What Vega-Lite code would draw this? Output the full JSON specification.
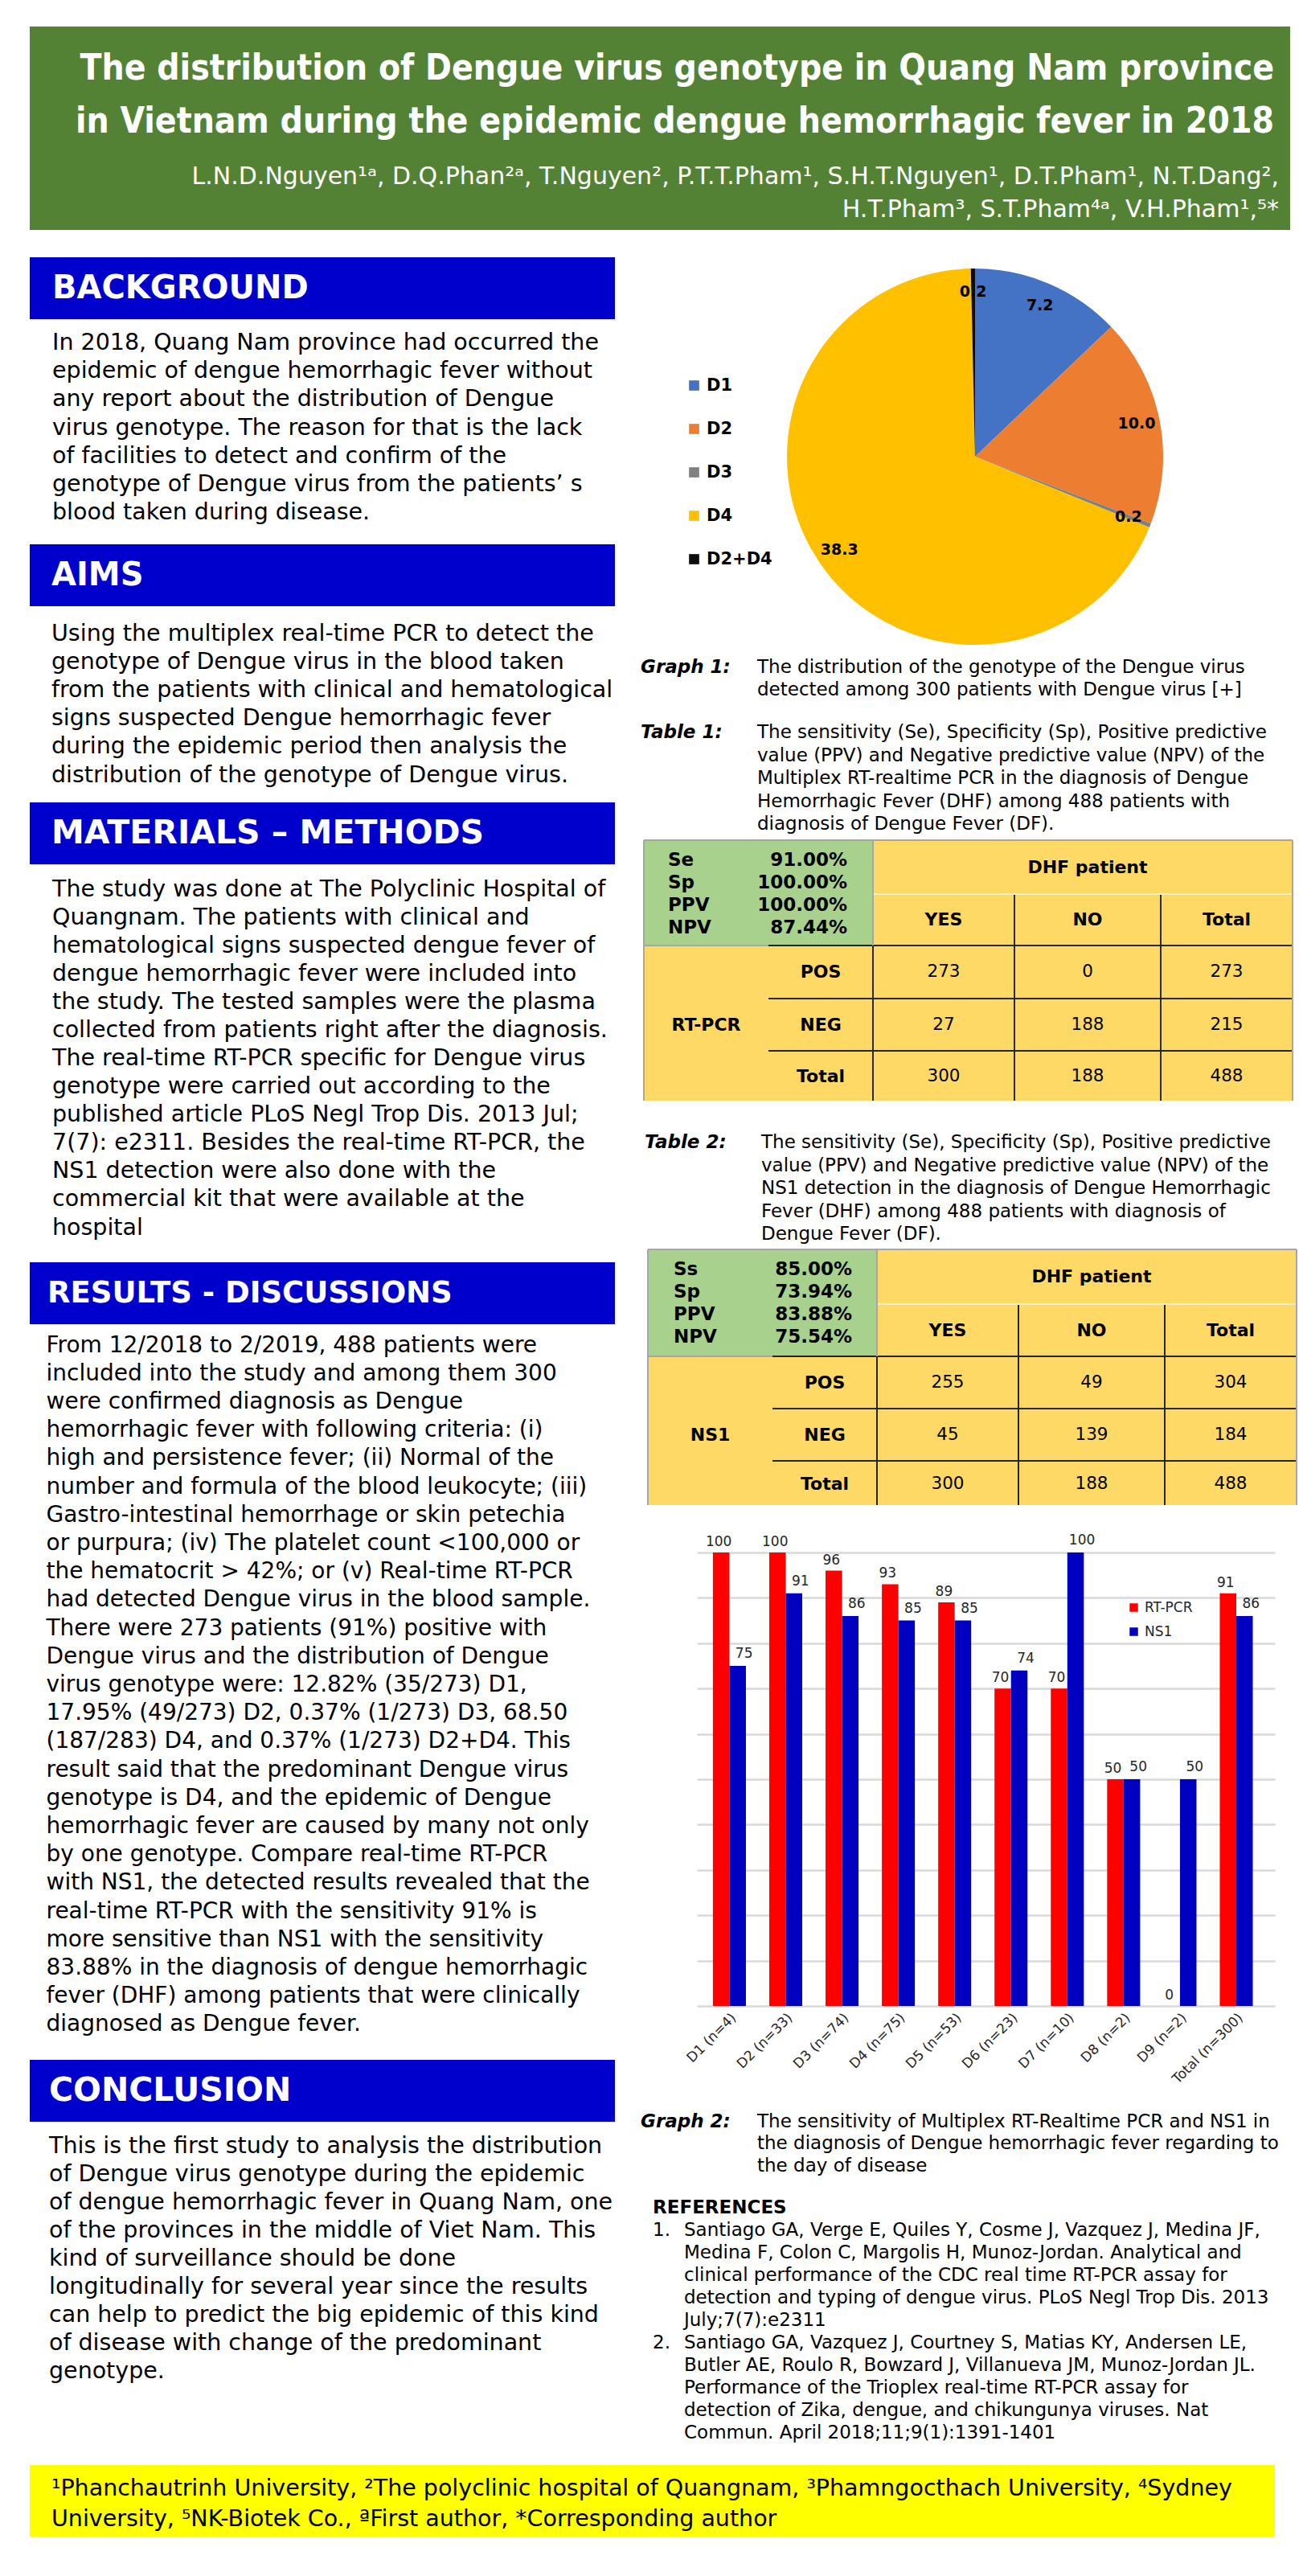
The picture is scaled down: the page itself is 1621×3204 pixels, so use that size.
{
"$schema": "https://vega.github.io/schema/vega-lite/v6.json",
"background": "white",
"padding": {"left": 37, "top": 33, "right": 9, "bottom": 48},
"config": {"view": {"stroke": null}, "font": "DejaVu Sans", "text": {"font": "DejaVu Sans", "color": "black"}, "concat": {"spacing": 0}},
"spacing": 0,
"resolve": {"scale": {"color": "independent"}, "legend": {"color": "independent"}},
"vconcat": [
{
 "width": 1568, "height": 253,
 "view": {"fill": "#548235", "stroke": null},
 "data": {"values": [
  {"line": 1, "kind": "title", "t": "The distribution of Dengue virus genotype in Quang Nam province"},
  {"line": 2, "kind": "title", "t": "in Vietnam during the epidemic dengue hemorrhagic fever in 2018"},
  {"line": 3, "kind": "author", "t": "L.N.D.Nguyen¹ᵃ, D.Q.Phan²ᵃ, T.Nguyen², P.T.T.Pham¹, S.H.T.Nguyen¹, D.T.Pham¹, N.T.Dang²,"},
  {"line": 4, "kind": "author", "t": "H.T.Pham³, S.T.Pham⁴ᵃ, V.H.Pham¹,⁵*"}
 ]},
 "encoding": {
  "y": {"field": "line", "type": "quantitative", "axis": null, "scale": {"domain": [1, 2, 3, 4], "range": [66, 132, 196, 237]}},
  "x": {"value": "width"},
  "text": {"field": "t"}
 },
 "layer": [
  {"transform": [{"filter": "datum.kind == 'title'"}], "mark": {"type": "text", "align": "right", "baseline": "alphabetic", "font": "DejaVu Sans Condensed", "fontWeight": "bold", "fontSize": 44, "color": "white", "dx": -20}},
  {"transform": [{"filter": "datum.kind == 'author'"}], "mark": {"type": "text", "align": "right", "baseline": "alphabetic", "fontSize": 30, "color": "white", "dx": -14}}
 ]
},
{"width": 1568, "height": 34, "data": {"values": []}, "mark": "point"},
{
 "spacing": 32,
 "resolve": {"scale": {"color": "independent"}, "legend": {"color": "independent"}},
 "hconcat": [
  {
   "spacing": 0,
   "vconcat": [
    {"width": 728, "height": 77, "view": {"fill": "#0000CC", "stroke": null}, "data": {"values": [{"t": "BACKGROUND"}]}, "mark": {"type": "text", "align": "left", "baseline": "middle", "fontSize": 40, "fontWeight": "bold", "color": "white", "dx": 28}, "encoding": {"x": {"value": 0}, "text": {"field": "t"}}},
    {"width": 728, "height": 10.35, "data": {"values": []}, "mark": "point"},
    {"width": 728, "height": 247.1,
     "data": {"values": [
      {"i": 0, "t": "In 2018, Quang Nam province had occurred the"},
      {"i": 1, "t": "epidemic of dengue hemorrhagic fever without"},
      {"i": 2, "t": "any report about the distribution of Dengue"},
      {"i": 3, "t": "virus genotype. The reason for that is the lack"},
      {"i": 4, "t": "of facilities to detect and confirm of the"},
      {"i": 5, "t": "genotype of Dengue virus from the patients’ s"},
      {"i": 6, "t": "blood taken during disease."}
     ]},
     "mark": {"type": "text", "align": "left", "baseline": "middle", "fontSize": 28.5, "dx": 28},
     "encoding": {"x": {"value": 0}, "y": {"field": "i", "type": "ordinal", "axis": null, "scale": {"type": "point", "padding": 0.5}}, "text": {"field": "t"}}},
    {"width": 728, "height": 20.55, "data": {"values": []}, "mark": "point"},
    {"width": 728, "height": 77, "view": {"fill": "#0000CC", "stroke": null}, "data": {"values": [{"t": "AIMS"}]}, "mark": {"type": "text", "align": "left", "baseline": "middle", "fontSize": 40, "fontWeight": "bold", "color": "white", "dx": 27}, "encoding": {"x": {"value": 0}, "text": {"field": "t"}}},
    {"width": 728, "height": 15.4, "data": {"values": []}, "mark": "point"},
    {"width": 728, "height": 211.2,
     "data": {"values": [
      {"i": 0, "t": "Using the multiplex real-time PCR to detect the"},
      {"i": 1, "t": "genotype of Dengue virus in the blood taken"},
      {"i": 2, "t": "from the patients with clinical and hematological"},
      {"i": 3, "t": "signs suspected Dengue hemorrhagic fever"},
      {"i": 4, "t": "during the epidemic period then analysis the"},
      {"i": 5, "t": "distribution of the genotype of Dengue virus."}
     ]},
     "mark": {"type": "text", "align": "left", "baseline": "middle", "fontSize": 28.5, "dx": 27},
     "encoding": {"x": {"value": 0}, "y": {"field": "i", "type": "ordinal", "axis": null, "scale": {"type": "point", "padding": 0.5}}, "text": {"field": "t"}}},
    {"width": 728, "height": 15.4, "data": {"values": []}, "mark": "point"},
    {"width": 728, "height": 77, "view": {"fill": "#0000CC", "stroke": null}, "data": {"values": [{"t": "MATERIALS – METHODS"}]}, "mark": {"type": "text", "align": "left", "baseline": "middle", "fontSize": 41, "fontWeight": "bold", "color": "white", "dx": 27}, "encoding": {"x": {"value": 0}, "text": {"field": "t"}}},
    {"width": 728, "height": 12.46, "data": {"values": []}, "mark": "point"},
    {"width": 728, "height": 456.04,
     "data": {"values": [
      {"i": 0, "t": "The study was done at The Polyclinic Hospital of"},
      {"i": 1, "t": "Quangnam. The patients with clinical and"},
      {"i": 2, "t": "hematological signs suspected dengue fever of"},
      {"i": 3, "t": "dengue hemorrhagic fever were included into"},
      {"i": 4, "t": "the study. The tested samples were the plasma"},
      {"i": 5, "t": "collected from patients right after the diagnosis."},
      {"i": 6, "t": "The real-time RT-PCR specific for Dengue virus"},
      {"i": 7, "t": "genotype were carried out according to the"},
      {"i": 8, "t": "published article PLoS Negl Trop Dis. 2013 Jul;"},
      {"i": 9, "t": "7(7): e2311. Besides the real-time RT-PCR, the"},
      {"i": 10, "t": "NS1 detection were also done with the"},
      {"i": 11, "t": "commercial kit that were available at the"},
      {"i": 12, "t": "hospital"}
     ]},
     "mark": {"type": "text", "align": "left", "baseline": "middle", "fontSize": 28.5, "dx": 28},
     "encoding": {"x": {"value": 0}, "y": {"field": "i", "type": "ordinal", "axis": null, "scale": {"type": "point", "padding": 0.5}}, "text": {"field": "t"}}},
    {"width": 728, "height": 24.5, "data": {"values": []}, "mark": "point"},
    {"width": 728, "height": 77, "view": {"fill": "#0000CC", "stroke": null}, "data": {"values": [{"t": "RESULTS - DISCUSSIONS"}]}, "mark": {"type": "text", "align": "left", "baseline": "middle", "fontSize": 37, "fontWeight": "bold", "color": "white", "dx": 22}, "encoding": {"x": {"value": 0}, "text": {"field": "t"}}},
    {"width": 728, "height": 9, "data": {"values": []}, "mark": "point"},
    {"width": 728, "height": 880,
     "data": {"values": [
      {"i": 0, "t": "From 12/2018 to 2/2019, 488 patients were"},
      {"i": 1, "t": "included into the study and among them 300"},
      {"i": 2, "t": "were confirmed diagnosis as Dengue"},
      {"i": 3, "t": "hemorrhagic fever with following criteria: (i)"},
      {"i": 4, "t": "high and persistence fever; (ii) Normal of the"},
      {"i": 5, "t": "number and formula of the blood leukocyte; (iii)"},
      {"i": 6, "t": "Gastro-intestinal hemorrhage or skin petechia"},
      {"i": 7, "t": "or purpura; (iv) The platelet count <100,000 or"},
      {"i": 8, "t": "the hematocrit > 42%; or (v) Real-time RT-PCR"},
      {"i": 9, "t": "had detected Dengue virus in the blood sample."},
      {"i": 10, "t": "There were 273 patients (91%) positive with"},
      {"i": 11, "t": "Dengue virus and the distribution of Dengue"},
      {"i": 12, "t": "virus genotype were: 12.82% (35/273) D1,"},
      {"i": 13, "t": "17.95% (49/273) D2, 0.37% (1/273) D3, 68.50"},
      {"i": 14, "t": "(187/283) D4, and 0.37% (1/273) D2+D4. This"},
      {"i": 15, "t": "result said that the predominant Dengue virus"},
      {"i": 16, "t": "genotype is D4, and the epidemic of Dengue"},
      {"i": 17, "t": "hemorrhagic fever are caused by many not only"},
      {"i": 18, "t": "by one genotype. Compare real-time RT-PCR"},
      {"i": 19, "t": "with NS1, the detected results revealed that the"},
      {"i": 20, "t": "real-time RT-PCR with the sensitivity 91% is"},
      {"i": 21, "t": "more sensitive than NS1 with the sensitivity"},
      {"i": 22, "t": "83.88% in the diagnosis of dengue hemorrhagic"},
      {"i": 23, "t": "fever (DHF) among patients that were clinically"},
      {"i": 24, "t": "diagnosed as Dengue fever."}
     ]},
     "mark": {"type": "text", "align": "left", "baseline": "middle", "fontSize": 28, "dx": 20.5},
     "encoding": {"x": {"value": 0}, "y": {"field": "i", "type": "ordinal", "axis": null, "scale": {"type": "point", "padding": 0.5}}, "text": {"field": "t"}}},
    {"width": 728, "height": 26, "data": {"values": []}, "mark": "point"},
    {"width": 728, "height": 77, "view": {"fill": "#0000CC", "stroke": null}, "data": {"values": [{"t": "CONCLUSION"}]}, "mark": {"type": "text", "align": "left", "baseline": "middle", "fontSize": 41, "fontWeight": "bold", "color": "white", "dx": 24}, "encoding": {"x": {"value": 0}, "text": {"field": "t"}}},
    {"width": 728, "height": 11.45, "data": {"values": []}, "mark": "point"},
    {"width": 728, "height": 315.9,
     "data": {"values": [
      {"i": 0, "t": "This is the first study to analysis the distribution"},
      {"i": 1, "t": "of Dengue virus genotype during the epidemic"},
      {"i": 2, "t": "of dengue hemorrhagic fever in Quang Nam, one"},
      {"i": 3, "t": "of the provinces in the middle of Viet Nam. This"},
      {"i": 4, "t": "kind of surveillance should be done"},
      {"i": 5, "t": "longitudinally for several year since the results"},
      {"i": 6, "t": "can help to predict the big epidemic of this kind"},
      {"i": 7, "t": "of disease with change of the predominant"},
      {"i": 8, "t": "genotype."}
     ]},
     "mark": {"type": "text", "align": "left", "baseline": "middle", "fontSize": 28.5, "dx": 24},
     "encoding": {"x": {"value": 0}, "y": {"field": "i", "type": "ordinal", "axis": null, "scale": {"type": "point", "padding": 0.5}}, "text": {"field": "t"}}}
   ]
  },
  {
   "spacing": 0,
   "resolve": {"scale": {"color": "independent"}, "legend": {"color": "independent"}},
   "vconcat": [
    {"spacing": 0, "resolve": {"scale": {"color": "independent"}, "legend": {"color": "independent"}}, "hconcat": [
     {"width": 24, "height": 496, "data": {"values": []}, "mark": "point"},
     {"width": 784, "height": 496,
      "data": {"values": [
       {"g": "D1", "v": 7.2, "o": 1},
       {"g": "D2", "v": 10.0, "o": 2},
       {"g": "D3", "v": 0.2, "o": 3},
       {"g": "D4", "v": 38.3, "o": 4},
       {"g": "D2+D4", "v": 0.2, "o": 5}
      ]},
      "encoding": {
       "theta": {"field": "v", "type": "quantitative", "stack": true},
       "order": {"field": "o", "type": "quantitative"}
      },
      "layer": [
       {"mark": {"type": "arc", "outerRadius": 234},
        "encoding": {"color": {"field": "g", "type": "nominal", "scale": {"domain": ["D1", "D2", "D3", "D4", "D2+D4"], "range": ["#4472C4", "#ED7D31", "#808080", "#FFC000", "#0D0D0D"]},
         "legend": {"title": null, "orient": "none", "legendX": 32, "legendY": 149, "symbolType": "square", "symbolSize": 160, "symbolStrokeWidth": 0, "labelFontSize": 21, "labelFontWeight": "bold", "labelColor": "black", "labelFont": "DejaVu Sans", "rowPadding": 32, "labelOffset": 5}}}},
       {"mark": {"type": "text", "radius": 205, "fontSize": 19, "fontWeight": "bold", "color": "black"},
        "encoding": {"detail": {"field": "g"}, "text": {"field": "v", "type": "quantitative", "format": ".1f"}}}
      ]}
    ]},
    {"width": 808, "height": 56,
     "data": {"values": [
      {"i": 0, "lab": "Graph 1:", "t": "The distribution of the genotype of the Dengue virus"},
      {"i": 1, "t": "detected among 300 patients with Dengue virus [+]"}
     ]},
     "encoding": {"x": {"value": 0}, "y": {"field": "i", "type": "ordinal", "axis": null, "scale": {"type": "point", "padding": 0.5}}},
     "layer": [
      {"mark": {"type": "text", "align": "left", "baseline": "middle", "fontSize": 23, "dx": 145}, "encoding": {"text": {"field": "t"}}},
      {"transform": [{"filter": "datum.lab"}], "mark": {"type": "text", "align": "left", "baseline": "middle", "fontSize": 23, "fontWeight": "bold", "fontStyle": "italic"}, "encoding": {"text": {"field": "lab"}}}
     ]},
    {"width": 808, "height": 25, "data": {"values": []}, "mark": "point"},
    {"width": 808, "height": 142.5,
     "data": {"values": [
      {"i": 0, "lab": "Table 1:", "t": "The sensitivity (Se), Specificity (Sp), Positive predictive"},
      {"i": 1, "t": "value (PPV) and Negative predictive value (NPV) of the"},
      {"i": 2, "t": "Multiplex RT-realtime PCR in the diagnosis of Dengue"},
      {"i": 3, "t": "Hemorrhagic Fever (DHF) among 488 patients with"},
      {"i": 4, "t": "diagnosis of Dengue Fever (DF)."}
     ]},
     "encoding": {"x": {"value": 0}, "y": {"field": "i", "type": "ordinal", "axis": null, "scale": {"type": "point", "padding": 0.5}}},
     "layer": [
      {"mark": {"type": "text", "align": "left", "baseline": "middle", "fontSize": 23, "dx": 145}, "encoding": {"text": {"field": "t"}}},
      {"transform": [{"filter": "datum.lab"}], "mark": {"type": "text", "align": "left", "baseline": "middle", "fontSize": 23, "fontWeight": "bold", "fontStyle": "italic"}, "encoding": {"text": {"field": "lab"}}}
     ]},
    {"width": 808, "height": 3.5, "data": {"values": []}, "mark": "point"},
    {"spacing": 0, "hconcat": [
     {"width": 3, "height": 324, "data": {"values": []}, "mark": "point"},
     {"width": 807, "height": 324,
      "resolve": {"scale": {"x": "independent", "y": "independent", "color": "independent"}},
      "layer": [
       {"data": {"values": [
         {"c0": 0, "c1": 2, "r0": 0, "r1": 2, "part": "stats"},
         {"c0": 2, "c1": 5, "r0": 0, "r1": 2, "part": "body"},
         {"c0": 0, "c1": 5, "r0": 2, "r1": 5, "part": "body"}]},
        "mark": {"type": "rect"},
        "encoding": {
         "x": {"field": "c0", "type": "quantitative", "axis": null, "scale": {"domain": [0, 1, 2, 3, 4, 5], "range": [0, 155, 285, 461, 643, 807]}},
         "x2": {"field": "c1"},
         "y": {"field": "r0", "type": "quantitative", "axis": null, "scale": {"domain": [0, 1, 2, 3, 4, 5], "range": [0, 67, 131, 197, 262, 324]}},
         "y2": {"field": "r1"},
         "color": {"field": "part", "type": "nominal", "legend": null, "scale": {"domain": ["stats", "body"], "range": ["#A9D18E", "#FFD966"]}}}},
       {"data": {"values": [
         {"c0": 1, "c1": 5, "r0": 2, "r1": 2, "tone": "dark"},
         {"c0": 1, "c1": 5, "r0": 3, "r1": 3, "tone": "dark"},
         {"c0": 1, "c1": 5, "r0": 4, "r1": 4, "tone": "dark"},
         {"c0": 2, "c1": 2, "r0": 2, "r1": 5, "tone": "dark"},
         {"c0": 3, "c1": 3, "r0": 1, "r1": 5, "tone": "dark"},
         {"c0": 4, "c1": 4, "r0": 1, "r1": 5, "tone": "dark"},
         {"c0": 2, "c1": 5, "r0": 1, "r1": 1, "tone": "light"},
         {"c0": 0, "c1": 5, "r0": 0, "r1": 0, "tone": "edge"},
         {"c0": 0, "c1": 0, "r0": 0, "r1": 5, "tone": "edge"},
         {"c0": 5, "c1": 5, "r0": 0, "r1": 5, "tone": "edge"},
         {"c0": 2, "c1": 2, "r0": 0, "r1": 2, "tone": "edge"},
         {"c0": 0, "c1": 1, "r0": 2, "r1": 2, "tone": "edge"}]},
        "mark": {"type": "rule", "strokeWidth": 2},
        "encoding": {
         "x": {"field": "c0", "type": "quantitative", "axis": null, "scale": {"domain": [0, 1, 2, 3, 4, 5], "range": [0, 155, 285, 461, 643, 807]}},
         "x2": {"field": "c1"},
         "y": {"field": "r0", "type": "quantitative", "axis": null, "scale": {"domain": [0, 1, 2, 3, 4, 5], "range": [0, 67, 131, 197, 262, 324]}},
         "y2": {"field": "r1"},
         "color": {"field": "tone", "type": "nominal", "legend": null, "scale": {"domain": ["dark", "light", "edge"], "range": ["#262626", "#FFF2CC", "#A6A6A6"]}}}},
       {"data": {"values": [
         {"ci": 3, "ri": 0, "t": "DHF patient", "w": "b"},
         {"ci": 2, "ri": 1, "t": "YES", "w": "b"},
         {"ci": 3, "ri": 1, "t": "NO", "w": "b"},
         {"ci": 4, "ri": 1, "t": "Total", "w": "b"},
         {"ci": 0, "ri": 3, "t": "RT-PCR", "w": "b"},
         {"ci": 1, "ri": 2, "t": "POS", "w": "b"},
         {"ci": 1, "ri": 3, "t": "NEG", "w": "b"},
         {"ci": 1, "ri": 4, "t": "Total", "w": "b"},
         {"ci": 2, "ri": 2, "t": "273", "w": "n"},
         {"ci": 3, "ri": 2, "t": "0", "w": "n"},
         {"ci": 4, "ri": 2, "t": "273", "w": "n"},
         {"ci": 2, "ri": 3, "t": "27", "w": "n"},
         {"ci": 3, "ri": 3, "t": "188", "w": "n"},
         {"ci": 4, "ri": 3, "t": "215", "w": "n"},
         {"ci": 2, "ri": 4, "t": "300", "w": "n"},
         {"ci": 3, "ri": 4, "t": "188", "w": "n"},
         {"ci": 4, "ri": 4, "t": "488", "w": "n"}]},
        "encoding": {
         "x": {"field": "ci", "type": "quantitative", "axis": null, "scale": {"domain": [0, 1, 2, 3, 4], "range": [77.5, 220, 373, 552, 725]}},
         "y": {"field": "ri", "type": "quantitative", "axis": null, "scale": {"domain": [0, 1, 2, 3, 4], "range": [33.5, 99, 164, 229.5, 293.5]}},
         "text": {"field": "t"}},
        "layer": [
         {"transform": [{"filter": "datum.w == 'b'"}], "mark": {"type": "text", "baseline": "middle", "fontSize": 22, "fontWeight": "bold"}},
         {"transform": [{"filter": "datum.w == 'n'"}], "mark": {"type": "text", "baseline": "middle", "fontSize": 21.5}}
        ]},
       {"data": {"values": [
         {"k": 0, "lab": "Se", "val": "91.00%"},
         {"k": 1, "lab": "Sp", "val": "100.00%"},
         {"k": 2, "lab": "PPV", "val": "100.00%"},
         {"k": 3, "lab": "NPV", "val": "87.44%"}]},
        "encoding": {
         "x": {"value": 0},
         "y": {"field": "k", "type": "quantitative", "axis": null, "scale": {"domain": [0, 3], "range": [25, 109]}}},
        "layer": [
         {"mark": {"type": "text", "align": "left", "baseline": "middle", "fontSize": 23, "fontWeight": "bold", "dx": 30}, "encoding": {"text": {"field": "lab"}}},
         {"mark": {"type": "text", "align": "right", "baseline": "middle", "fontSize": 23, "fontWeight": "bold", "dx": 253}, "encoding": {"text": {"field": "val"}}}
        ]}
      ]}
    ]},
    {"width": 808, "height": 36.75, "data": {"values": []}, "mark": "point"},
    {"width": 808, "height": 142.5,
     "data": {"values": [
      {"i": 0, "lab": "Table 2:", "t": "The sensitivity (Se), Specificity (Sp), Positive predictive"},
      {"i": 1, "t": "value (PPV) and Negative predictive value (NPV) of the"},
      {"i": 2, "t": "NS1 detection in the diagnosis of Dengue Hemorrhagic"},
      {"i": 3, "t": "Fever (DHF) among 488 patients with diagnosis of"},
      {"i": 4, "t": "Dengue Fever (DF)."}
     ]},
     "encoding": {"x": {"value": 0}, "y": {"field": "i", "type": "ordinal", "axis": null, "scale": {"type": "point", "padding": 0.5}}},
     "layer": [
      {"mark": {"type": "text", "align": "left", "baseline": "middle", "fontSize": 23, "dx": 150}, "encoding": {"text": {"field": "t"}}},
      {"transform": [{"filter": "datum.lab"}], "mark": {"type": "text", "align": "left", "baseline": "middle", "fontSize": 23, "fontWeight": "bold", "fontStyle": "italic", "dx": 5}, "encoding": {"text": {"field": "lab"}}}
     ]},
    {"width": 808, "height": 2.75, "data": {"values": []}, "mark": "point"},
    {"spacing": 0, "hconcat": [
     {"width": 8, "height": 318, "data": {"values": []}, "mark": "point"},
     {"width": 807, "height": 318,
      "resolve": {"scale": {"x": "independent", "y": "independent", "color": "independent"}},
      "layer": [
       {"data": {"values": [
         {"c0": 0, "c1": 2, "r0": 0, "r1": 2, "part": "stats"},
         {"c0": 2, "c1": 5, "r0": 0, "r1": 2, "part": "body"},
         {"c0": 0, "c1": 5, "r0": 2, "r1": 5, "part": "body"}]},
        "mark": {"type": "rect"},
        "encoding": {
         "x": {"field": "c0", "type": "quantitative", "axis": null, "scale": {"domain": [0, 1, 2, 3, 4, 5], "range": [0, 155, 285, 461, 643, 807]}},
         "x2": {"field": "c1"},
         "y": {"field": "r0", "type": "quantitative", "axis": null, "scale": {"domain": [0, 1, 2, 3, 4, 5], "range": [0, 68, 133, 198, 263, 318]}},
         "y2": {"field": "r1"},
         "color": {"field": "part", "type": "nominal", "legend": null, "scale": {"domain": ["stats", "body"], "range": ["#A9D18E", "#FFD966"]}}}},
       {"data": {"values": [
         {"c0": 1, "c1": 5, "r0": 2, "r1": 2, "tone": "dark"},
         {"c0": 1, "c1": 5, "r0": 3, "r1": 3, "tone": "dark"},
         {"c0": 1, "c1": 5, "r0": 4, "r1": 4, "tone": "dark"},
         {"c0": 2, "c1": 2, "r0": 2, "r1": 5, "tone": "dark"},
         {"c0": 3, "c1": 3, "r0": 1, "r1": 5, "tone": "dark"},
         {"c0": 4, "c1": 4, "r0": 1, "r1": 5, "tone": "dark"},
         {"c0": 2, "c1": 5, "r0": 1, "r1": 1, "tone": "light"},
         {"c0": 0, "c1": 5, "r0": 0, "r1": 0, "tone": "edge"},
         {"c0": 0, "c1": 0, "r0": 0, "r1": 5, "tone": "edge"},
         {"c0": 5, "c1": 5, "r0": 0, "r1": 5, "tone": "edge"},
         {"c0": 2, "c1": 2, "r0": 0, "r1": 2, "tone": "edge"},
         {"c0": 0, "c1": 1, "r0": 2, "r1": 2, "tone": "edge"}]},
        "mark": {"type": "rule", "strokeWidth": 2},
        "encoding": {
         "x": {"field": "c0", "type": "quantitative", "axis": null, "scale": {"domain": [0, 1, 2, 3, 4, 5], "range": [0, 155, 285, 461, 643, 807]}},
         "x2": {"field": "c1"},
         "y": {"field": "r0", "type": "quantitative", "axis": null, "scale": {"domain": [0, 1, 2, 3, 4, 5], "range": [0, 68, 133, 198, 263, 318]}},
         "y2": {"field": "r1"},
         "color": {"field": "tone", "type": "nominal", "legend": null, "scale": {"domain": ["dark", "light", "edge"], "range": ["#262626", "#FFF2CC", "#A6A6A6"]}}}},
       {"data": {"values": [
         {"ci": 3, "ri": 0, "t": "DHF patient", "w": "b"},
         {"ci": 2, "ri": 1, "t": "YES", "w": "b"},
         {"ci": 3, "ri": 1, "t": "NO", "w": "b"},
         {"ci": 4, "ri": 1, "t": "Total", "w": "b"},
         {"ci": 0, "ri": 3, "t": "NS1", "w": "b"},
         {"ci": 1, "ri": 2, "t": "POS", "w": "b"},
         {"ci": 1, "ri": 3, "t": "NEG", "w": "b"},
         {"ci": 1, "ri": 4, "t": "Total", "w": "b"},
         {"ci": 2, "ri": 2, "t": "255", "w": "n"},
         {"ci": 3, "ri": 2, "t": "49", "w": "n"},
         {"ci": 4, "ri": 2, "t": "304", "w": "n"},
         {"ci": 2, "ri": 3, "t": "45", "w": "n"},
         {"ci": 3, "ri": 3, "t": "139", "w": "n"},
         {"ci": 4, "ri": 3, "t": "184", "w": "n"},
         {"ci": 2, "ri": 4, "t": "300", "w": "n"},
         {"ci": 3, "ri": 4, "t": "188", "w": "n"},
         {"ci": 4, "ri": 4, "t": "488", "w": "n"}]},
        "encoding": {
         "x": {"field": "ci", "type": "quantitative", "axis": null, "scale": {"domain": [0, 1, 2, 3, 4], "range": [77.5, 220, 373, 552, 725]}},
         "y": {"field": "ri", "type": "quantitative", "axis": null, "scale": {"domain": [0, 1, 2, 3, 4], "range": [34, 100.5, 165.5, 230.5, 292]}},
         "text": {"field": "t"}},
        "layer": [
         {"transform": [{"filter": "datum.w == 'b'"}], "mark": {"type": "text", "baseline": "middle", "fontSize": 22, "fontWeight": "bold"}},
         {"transform": [{"filter": "datum.w == 'n'"}], "mark": {"type": "text", "baseline": "middle", "fontSize": 21.5}}
        ]},
       {"data": {"values": [
         {"k": 0, "lab": "Ss", "val": "85.00%"},
         {"k": 1, "lab": "Sp", "val": "73.94%"},
         {"k": 2, "lab": "PPV", "val": "83.88%"},
         {"k": 3, "lab": "NPV", "val": "75.54%"}]},
        "encoding": {
         "x": {"value": 0},
         "y": {"field": "k", "type": "quantitative", "axis": null, "scale": {"domain": [0, 3], "range": [25, 109]}}},
        "layer": [
         {"mark": {"type": "text", "align": "left", "baseline": "middle", "fontSize": 23, "fontWeight": "bold", "dx": 32}, "encoding": {"text": {"field": "lab"}}},
         {"mark": {"type": "text", "align": "right", "baseline": "middle", "fontSize": 23, "fontWeight": "bold", "dx": 254}, "encoding": {"text": {"field": "val"}}}
        ]}
      ]}
    ]},
    {"width": 808, "height": 33, "data": {"values": []}, "mark": "point"},
    {"spacing": 0, "resolve": {"scale": {"color": "independent"}, "legend": {"color": "independent"}}, "hconcat": [
     {"width": 53, "height": 589, "data": {"values": []}, "mark": "point"},
     {"width": 719, "height": 589,
      "data": {"values": [
       {"g": "D1 (n=4)", "s": "RT-PCR", "v": 100}, {"g": "D1 (n=4)", "s": "NS1", "v": 75},
       {"g": "D2 (n=33)", "s": "RT-PCR", "v": 100}, {"g": "D2 (n=33)", "s": "NS1", "v": 91},
       {"g": "D3 (n=74)", "s": "RT-PCR", "v": 96}, {"g": "D3 (n=74)", "s": "NS1", "v": 86},
       {"g": "D4 (n=75)", "s": "RT-PCR", "v": 93}, {"g": "D4 (n=75)", "s": "NS1", "v": 85},
       {"g": "D5 (n=53)", "s": "RT-PCR", "v": 89}, {"g": "D5 (n=53)", "s": "NS1", "v": 85},
       {"g": "D6 (n=23)", "s": "RT-PCR", "v": 70}, {"g": "D6 (n=23)", "s": "NS1", "v": 74},
       {"g": "D7 (n=10)", "s": "RT-PCR", "v": 70}, {"g": "D7 (n=10)", "s": "NS1", "v": 100},
       {"g": "D8 (n=2)", "s": "RT-PCR", "v": 50}, {"g": "D8 (n=2)", "s": "NS1", "v": 50},
       {"g": "D9 (n=2)", "s": "RT-PCR", "v": 0}, {"g": "D9 (n=2)", "s": "NS1", "v": 50},
       {"g": "Total (n=300)", "s": "RT-PCR", "v": 91}, {"g": "Total (n=300)", "s": "NS1", "v": 86}
      ]},
      "encoding": {
       "x": {"field": "g", "type": "nominal", "sort": null, "scale": {"paddingInner": 0.414, "paddingOuter": 0.338, "align": 0.42},
        "axis": {"title": null, "labelAngle": -45, "labelFontSize": 17, "labelColor": "#262626", "labelFont": "DejaVu Sans", "domain": false, "ticks": false, "labelPadding": 6}},
       "xOffset": {"field": "s", "type": "nominal", "sort": ["RT-PCR", "NS1"]},
       "y": {"field": "v", "type": "quantitative", "scale": {"domain": [0, 104.43], "nice": false},
        "axis": {"title": null, "labels": false, "ticks": false, "domain": false, "grid": true, "values": [0, 10, 20, 30, 40, 50, 60, 70, 80, 90, 100], "gridColor": "#D9D9D9", "gridWidth": 2.5}}
      },
      "layer": [
       {"mark": {"type": "bar"},
        "encoding": {"color": {"field": "s", "type": "nominal", "scale": {"domain": ["RT-PCR", "NS1"], "range": ["#FF0000", "#0000C0"]},
         "legend": {"title": null, "orient": "none", "legendX": 535, "legendY": 85, "symbolType": "square", "symbolSize": 110, "symbolStrokeWidth": 0, "labelFontSize": 17, "labelFont": "DejaVu Sans", "labelColor": "#262626", "rowPadding": 12, "labelOffset": 5}}}},
       {"transform": [{"filter": "datum.s == 'RT-PCR'"}], "mark": {"type": "text", "baseline": "middle", "dy": -13, "dx": -3, "fontSize": 17, "color": "#262626"},
        "encoding": {"text": {"field": "v", "type": "quantitative"}}},
       {"transform": [{"filter": "datum.s == 'NS1'"}], "mark": {"type": "text", "baseline": "middle", "dy": -15, "dx": 8, "fontSize": 17, "color": "#262626"},
        "encoding": {"text": {"field": "v", "type": "quantitative"}}}
      ]}
    ]},
    {"width": 808, "height": 30, "data": {"values": []}, "mark": "point"},
    {"width": 808, "height": 82.5,
     "data": {"values": [
      {"i": 0, "lab": "Graph 2:", "t": "The sensitivity of Multiplex RT-Realtime PCR and NS1 in"},
      {"i": 1, "t": "the diagnosis of Dengue hemorrhagic fever regarding to"},
      {"i": 2, "t": "the day of disease"}
     ]},
     "encoding": {"x": {"value": 0}, "y": {"field": "i", "type": "ordinal", "axis": null, "scale": {"type": "point", "padding": 0.5}}},
     "layer": [
      {"mark": {"type": "text", "align": "left", "baseline": "middle", "fontSize": 23, "dx": 145}, "encoding": {"text": {"field": "t"}}},
      {"transform": [{"filter": "datum.lab"}], "mark": {"type": "text", "align": "left", "baseline": "middle", "fontSize": 23, "fontWeight": "bold", "fontStyle": "italic"}, "encoding": {"text": {"field": "lab"}}}
     ]},
    {"width": 808, "height": 23.25, "data": {"values": []}, "mark": "point"},
    {"width": 808, "height": 308,
     "data": {"values": [
      {"i": 0, "kind": "head", "t": "REFERENCES"},
      {"i": 1, "kind": "body", "n": "1.", "t": "Santiago GA, Verge E, Quiles Y, Cosme J, Vazquez J, Medina JF,"},
      {"i": 2, "kind": "body", "t": "Medina F, Colon C, Margolis H, Munoz-Jordan. Analytical and"},
      {"i": 3, "kind": "body", "t": "clinical performance of the CDC real time RT-PCR assay for"},
      {"i": 4, "kind": "body", "t": "detection and typing of dengue virus. PLoS Negl Trop Dis. 2013"},
      {"i": 5, "kind": "body", "t": "July;7(7):e2311"},
      {"i": 6, "kind": "body", "n": "2.", "t": "Santiago GA, Vazquez J, Courtney S, Matias KY, Andersen LE,"},
      {"i": 7, "kind": "body", "t": "Butler AE, Roulo R, Bowzard J, Villanueva JM, Munoz-Jordan JL."},
      {"i": 8, "kind": "body", "t": "Performance of the Trioplex real-time RT-PCR assay for"},
      {"i": 9, "kind": "body", "t": "detection of Zika, dengue, and chikungunya viruses. Nat"},
      {"i": 10, "kind": "body", "t": "Commun. April 2018;11;9(1):1391-1401"}
     ]},
     "encoding": {"x": {"value": 0}, "y": {"field": "i", "type": "ordinal", "axis": null, "scale": {"type": "point", "padding": 0.5}}},
     "layer": [
      {"transform": [{"filter": "datum.kind == 'head'"}], "mark": {"type": "text", "align": "left", "baseline": "middle", "fontSize": 23, "fontWeight": "bold", "dx": 15}, "encoding": {"text": {"field": "t"}}},
      {"transform": [{"filter": "datum.kind == 'body'"}], "mark": {"type": "text", "align": "left", "baseline": "middle", "fontSize": 23, "dx": 54}, "encoding": {"text": {"field": "t"}}},
      {"transform": [{"filter": "datum.n"}], "mark": {"type": "text", "align": "left", "baseline": "middle", "fontSize": 23, "dx": 15}, "encoding": {"text": {"field": "n"}}}
     ]}
   ]
  }
 ]
},
{"width": 1549, "height": 26, "data": {"values": []}, "mark": "point"},
{
 "width": 1549, "height": 89,
 "view": {"fill": "#FFFF00", "stroke": null},
 "data": {"values": [
  {"i": 0, "t": "¹Phanchautrinh University, ²The polyclinic hospital of Quangnam, ³Phamngocthach University, ⁴Sydney"},
  {"i": 1, "t": "University, ⁵NK-Biotek Co., ªFirst author, *Corresponding author"}
 ]},
 "mark": {"type": "text", "align": "left", "baseline": "middle", "fontSize": 28.5, "dx": 27},
 "encoding": {"x": {"value": 0}, "y": {"field": "i", "type": "ordinal", "axis": null, "scale": {"type": "point", "padding": 0.671, "align": 0.569}}, "text": {"field": "t"}}
}
]
}
